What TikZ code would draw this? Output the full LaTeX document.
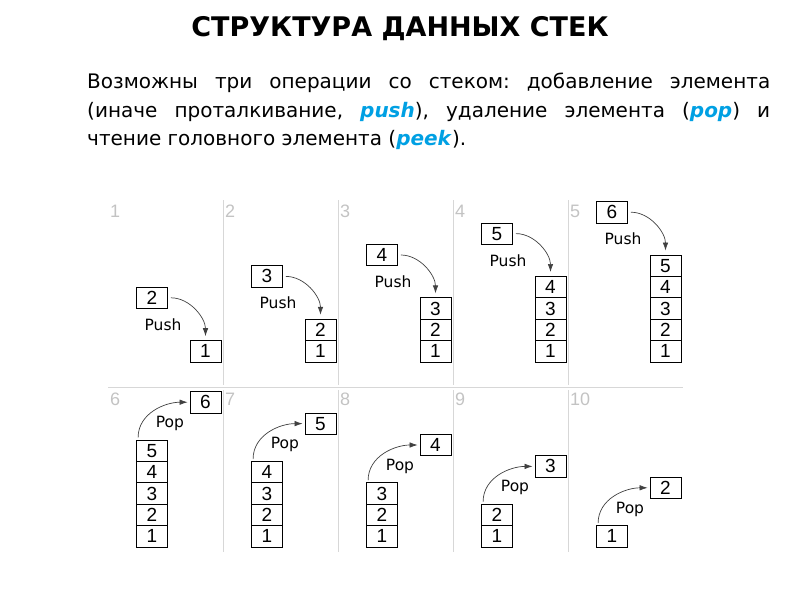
\documentclass[tikz,border=0pt]{standalone}
\usepackage{fontspec}
\setmainfont{DejaVu Sans}
\newfontfamily\digfont{Liberation Sans}
\usetikzlibrary{arrows.meta}
\definecolor{kwblue}{RGB}{0,160,227}
\definecolor{sepgray}{RGB}{215,215,215}
\definecolor{numgray}{RGB}{195,195,195}
\newcommand{\kw}[1]{\textcolor{kwblue}{\textbf{\textit{#1}}}}
\frenchspacing
\tikzset{
	stackcell/.style={draw, line width=0.8pt, minimum width=31pt, minimum height=21.4pt,
		inner sep=0pt, font=\digfont\fontsize{19}{19}\selectfont},
	oplbl/.style={inner sep=0pt, font=\fontsize{15.5}{16}\selectfont},
	pnum/.style={anchor=base west, inner sep=0pt, text=numgray,
		font=\digfont\fontsize{18}{18}\selectfont},
	divider/.style={draw=sepgray, line width=1pt},
	mv/.style={-{Latex[length=8pt,width=5.5pt]}, draw=black!75, line width=0.7pt}
}

\begin{document}
\begin{tikzpicture}[x=1pt,y=-1pt]
	\useasboundingbox (0,0) rectangle (800,600);
	\node[font=\bfseries\fontsize{27}{27}\selectfont] (title) at (400,29) {СТРУКТУРА ДАННЫХ СТЕК};
	\node[anchor=north west, inner sep=0pt, text width=683pt, align=justify,
		font=\fontsize{20}{28.5}\selectfont] (intro) at (87,73)
		{Возможны три операции со стеком: добавление элемента\linebreak
		(иначе проталкивание, \kw{push}), удаление элемента (\kw{pop}) и\linebreak
		чтение головного элемента (\kw{peek}).};
	% grid
	\foreach \x in {223,338,453,568}{
		\draw[divider] (\x,200) -- (\x,385);
		\draw[divider] (\x,390) -- (\x,552);
	}
	\draw[divider] (108,387) -- (683,387);
	% push row
	\foreach \i in {1,...,5}{
		\pgfmathsetmacro{\px}{108+115*(\i-1)}
		\pgfmathsetmacro{\ty}{362-21.4*\i}
		\pgfmathtruncatemacro{\nnew}{\i+1}
		\node[pnum] (n\i) at (\px+2,217) {\i};
		\foreach \k in {1,...,\i}
			\node[stackcell] (s\i-\k) at (\px+97.5,{362-21.4*(\k-0.5)}) {\k};
		\node[stackcell] (in\i) at (\px+44,\ty-42.8) {\nnew};
		\node[oplbl] (push\i) at (\px+55,\ty-16) {Push};
		\draw[mv, shorten <=3pt, shorten >=4pt] (in\i.east) to[out=0,in=90] (s\i-\i.north);
	}
	% pop row
	\foreach \j in {6,...,10}{
		\pgfmathsetmacro{\px}{108+115*(\j-6)}
		\pgfmathtruncatemacro{\cnt}{11-\j}
		\pgfmathsetmacro{\ty}{547-21.4*\cnt}
		\pgfmathtruncatemacro{\nout}{\cnt+1}
		\node[pnum] (n\j) at (\px+2,405) {\j};
		\foreach \k in {1,...,\cnt}
			\node[stackcell] (s\j-\k) at (\px+44,{547-21.4*(\k-0.5)}) {\k};
		\node[stackcell] (out\j) at (\px+97.5,\ty-37.8) {\nout};
		\node[oplbl] (pop\j) at (\px+62,\ty-16.5) {Pop};
		\draw[mv, shorten >=2pt] ([xshift=2pt,yshift=2pt]s\j-\cnt.north west) to[out=90,in=180] (out\j.west);
	}
\end{tikzpicture}
\end{document}
